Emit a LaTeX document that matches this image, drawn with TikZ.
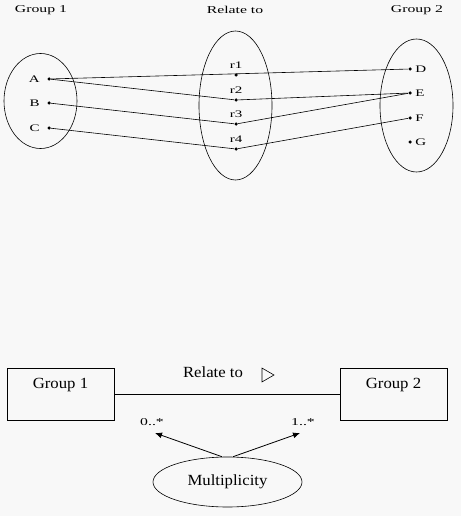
\documentclass[tikz,border=0pt]{standalone}
\usepackage{fontspec}
\setmainfont{Liberation Serif}
\newfontfamily\widefont[FakeStretch=1.5]{Liberation Serif}
\newfontfamily\bigfont[FakeStretch=1.08]{Liberation Serif}
\usetikzlibrary{shapes.geometric,arrows.meta}
\definecolor{paper}{RGB}{248,248,248}
\tikzset{
	lbl/.style={font=\widefont\fontsize{10.5}{12}\selectfont},
	elem/.style={font=\widefont\fontsize{10}{11}\selectfont, inner sep=1pt},
	set/.style={draw, ellipse, inner sep=0pt},
	dot/.style={circle, fill, inner sep=0pt, minimum size=3.5pt},
	box/.style={draw, minimum width=107pt, minimum height=52pt},
	big/.style={font=\bigfont\fontsize{15.5}{18}\selectfont},
	arr/.style={line width=0.8pt, -{Latex[length=7pt,width=6pt]}}
}
\begin{document}
\begin{tikzpicture}[x=1pt, y=-1pt, line width=0.6pt]
	\fill[paper] (0,0) rectangle (461,516);
	% sets
	\node[lbl] (g1) at (41,10) {Group 1};
	\node[lbl] (rel) at (235,10) {Relate to};
	\node[lbl] (g2) at (417,10) {Group 2};
	\node[set, minimum width=73pt, minimum height=95pt] (s1) at (40.5,101) {};
	\node[set, minimum width=73pt, minimum height=149pt] (s2) at (235.5,105.5) {};
	\node[set, minimum width=73pt, minimum height=133pt] (s3) at (416.5,105.5) {};
	\node[dot, label={[elem, label distance=6pt]left:A}] (a) at (49,79) {};
	\node[dot, label={[elem, label distance=6pt]left:B}] (b) at (49,103) {};
	\node[dot, label={[elem, label distance=6pt]left:C}] (c) at (49,128) {};
	\node[dot, label={[elem, label distance=3pt]above:r1}] (r1) at (236,75) {};
	\node[dot, label={[elem, label distance=3pt]above:r2}] (r2) at (236,100) {};
	\node[dot, label={[elem, label distance=3pt]above:r3}] (r3) at (236,124) {};
	\node[dot, label={[elem, label distance=3pt]above:r4}] (r4) at (236,149) {};
	\node[dot, label={[elem, label distance=2pt]right:D}] (d) at (410,69) {};
	\node[dot, label={[elem, label distance=2pt]right:E}] (e) at (410,93) {};
	\node[dot, label={[elem, label distance=2pt]right:F}] (f) at (410,118) {};
	\node[dot, label={[elem, label distance=2pt]right:G}] (g) at (410,142) {};
	\draw (a) -- (d);
	\draw (a) -- (r2) -- (e);
	\draw (b) -- (r3) -- (e);
	\draw (c) -- (r4) -- (f);
	% class view
	\node[box] (b1) at (60.5,394) {};
	\node[box] (b2) at (393.5,394) {};
	\node[big] at ([yshift=-17pt]b1.north) {Group 1};
	\node[big] at ([yshift=-17pt]b2.north) {Group 2};
	\draw (b1.east) -- (b2.west);
	\node[big] (rt) at (213,372) {Relate to};
	\node[draw, regular polygon, regular polygon sides=3, shape border rotate=-90,
		minimum size=16pt, inner sep=0pt] (dir) at (266,375) {};
	\node[set, big, minimum width=149pt, minimum height=50pt] (m) at (227.5,482) {Multiplicity};
	\node[lbl] (lo) at (152,422) {0..*};
	\node[lbl] (hi) at (303,422) {1..*};
	\coordinate (loend) at (155,433);
	\coordinate (hiend) at (300,433);
	\draw[arr] (m.102) -- (loend);
	\draw[arr] (m.78) -- (hiend);
\end{tikzpicture}
\end{document}
